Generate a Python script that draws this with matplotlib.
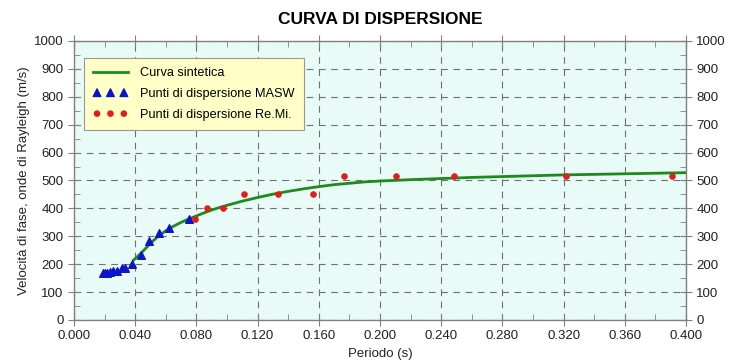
import matplotlib
matplotlib.use("Agg")
import matplotlib.pyplot as plt
from matplotlib.ticker import MultipleLocator, FormatStrFormatter

plt.rcParams['font.family'] = ['Liberation Sans', 'DejaVu Sans']

# Synthetic dispersion curve
curve_period = [0.039, 0.042, 0.046, 0.050, 0.055, 0.060, 0.065, 0.070, 0.075,
                0.080, 0.085, 0.090, 0.095, 0.100, 0.110, 0.120, 0.130, 0.140,
                0.150, 0.160, 0.170, 0.180, 0.190, 0.200, 0.220, 0.240, 0.260,
                0.280, 0.300, 0.320, 0.340, 0.360, 0.380, 0.400]
curve_velocity = [215, 230, 252, 275, 300, 320, 336, 350, 362,
                  373, 384, 394, 403, 411, 426, 439, 451, 461,
                  470, 478, 485, 490, 495, 498, 503, 507, 511,
                  514, 517, 520, 522, 524, 526, 528]

# MASW dispersion points
masw_period = [0.0188, 0.0203, 0.0218, 0.0235, 0.0257, 0.0279, 0.0312, 0.0333,
               0.0377, 0.0436, 0.0492, 0.0556, 0.0623, 0.0752]
masw_velocity = [169, 170, 170, 172, 174, 177, 185, 186,
                 200, 233, 284, 313, 329, 363]

# Re.Mi. dispersion points
remi_period = [0.0791, 0.0867, 0.0976, 0.1113, 0.1331, 0.1564, 0.1763,
               0.2105, 0.2484, 0.3214, 0.3907]
remi_velocity = [361, 400, 400, 450, 450, 450, 515,
                 515, 515, 515, 515]

x_major, x_minor = 0.04, 0.02
y_major, y_minor = 100, 50

fig = plt.figure(figsize=(7.44, 3.64), dpi=100)
ax = fig.add_axes([0.0995, 0.1209, 0.8225, 0.7665])
ax.set_facecolor('#e9fbf6')

ax.plot(curve_period, curve_velocity, color='#1e8a1e', lw=2.0, zorder=3,
        label='Curva sintetica')
ax.scatter(masw_period, masw_velocity, marker='^', s=30, color='#0a14c8',
           zorder=4, label='Punti di dispersione MASW')
ax.scatter(remi_period, remi_velocity, marker='o', s=14, color='#e01e1e',
           zorder=4, label='Punti di dispersione Re.Mi.')

ax.set_xlim(0, 0.4)
ax.set_ylim(0, 1000)
ax.xaxis.set_major_locator(MultipleLocator(x_major))
ax.xaxis.set_minor_locator(MultipleLocator(x_minor))
ax.yaxis.set_major_locator(MultipleLocator(y_major))
ax.yaxis.set_minor_locator(MultipleLocator(y_minor))
ax.xaxis.set_major_formatter(FormatStrFormatter('%.3f'))

ax.grid(True, which='major', ls=(0, (6, 5)), color='#707070', lw=0.8)
for s in ax.spines.values():
    s.set_color('#808080')
    s.set_linewidth(1.0)

ax.tick_params(axis='both', which='major', direction='inout', length=8,
               color='#808080', labelsize=9.5, labelcolor='#222222',
               right=True, top=True, labelright=True)
ax.tick_params(axis='both', which='minor', direction='in', length=4,
               color='#808080', right=True, top=True)

ax.set_xlabel('Periodo (s)', fontsize=9.5, color='#222222', labelpad=4)
ax.set_ylabel('Velocità di fase, onde di Rayleigh (m/s)', fontsize=9.5,
              color='#222222', labelpad=3)
ax.set_title('CURVA DI DISPERSIONE', fontsize=12.5, fontweight='bold', pad=12)

leg = ax.legend(loc='upper left', bbox_to_anchor=(0.0163, 0.939),
                borderaxespad=0, fontsize=9.2, scatterpoints=3,
                scatteryoffsets=[0.5], handlelength=2.7,
                fancybox=False, frameon=True, borderpad=0.72,
                labelspacing=0.7, handletextpad=0.95)
leg.get_frame().set_facecolor('#ffffc8')
leg.get_frame().set_edgecolor('#999999')
leg.get_frame().set_alpha(1.0)
leg.get_frame().set_linewidth(0.8)

fig.savefig('out.png', dpi=100, facecolor='white')
